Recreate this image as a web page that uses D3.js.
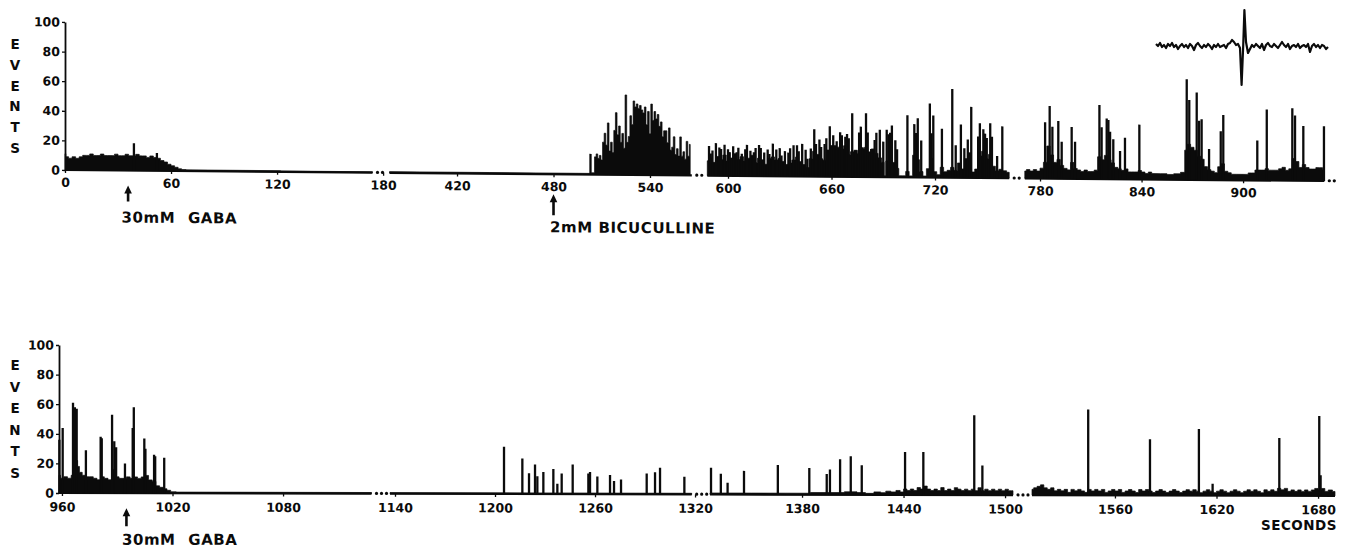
<!DOCTYPE html>
<html>
<head>
<meta charset="utf-8">
<script src="https://cdn.jsdelivr.net/npm/d3@7"></script>
<style>
  body { margin: 0; background: #fff; }
  text { font-family: "DejaVu Sans", sans-serif; font-weight: bold; fill: #0b0b0b; }
</style>
</head>
<body>
<svg id="chart" width="1347" height="548"></svg>
<script>
// ---- data (time in seconds, counts in events per bin) ----
var eventTicks = [0, 20, 40, 60, 80, 100];

// top record: broken time axis, four pieces
var topSegments = [[0, 174], [378, 566], [588, 763], [771, 948]];
var topTimeTicks = [[0, 60, 120, 180], [420, 480, 540], [600, 660, 720], [780, 840, 900]];

// background level of the histogram (time, events)
var topBase = [
  [0, 11], [1, 9], [3, 8], [5, 9], [7, 8], [9, 9], [11, 10], [13, 10], [15, 11], [17, 10], [19, 10],
  [21, 11], [23, 10], [25, 10], [27, 10], [29, 11], [31, 10], [33, 10], [35, 11], [37, 10], [39, 10],
  [41, 11], [43, 10], [45, 10], [47, 9], [49, 10], [51, 9], [53, 8.5], [55, 7], [57, 6], [59, 4.5],
  [61, 3.5], [63, 2.5], [65, 1.5], [67, 1], [70, 0.8], [174, 0.6],
  [378, 0.8], [502, 0.8], [505, 1.2],
  [588, 10], [590, 12], [592, 9], [594, 13], [596, 11], [598, 14], [600, 10], [602, 12], [604, 15],
  [606, 11], [608, 13], [610, 10], [612, 12], [614, 14], [616, 9], [618, 12], [620, 11], [622, 8],
  [624, 12], [626, 13], [628, 11], [630, 12], [632, 10], [634, 8], [636, 9], [638, 11], [640, 13],
  [642, 10], [644, 8], [646, 6], [648, 12], [650, 17], [652, 15], [654, 12], [656, 11], [658, 18],
  [660, 21], [662, 21], [664, 20], [666, 19], [668, 21], [670, 15], [672, 17], [674, 18], [676, 16],
  [678, 19], [680, 20], [682, 17], [684, 19], [686, 16], [688, 13], [690, 10], [691, 1], [692, 11],
  [694, 15], [696, 10], [698, 6], [700, 1], [702, 1], [704, 4], [706, 1], [708, 15], [710, 12], [712, 4],
  [714, 1], [716, 6], [718, 13], [720, 4], [722, 2], [724, 7], [726, 4], [728, 5], [730, 7], [732, 5],
  [734, 10], [736, 6], [738, 13], [740, 17], [742, 4], [744, 6], [746, 15], [748, 18], [750, 13],
  [752, 16], [754, 8], [756, 5], [758, 6], [760, 5], [763, 4],
  [771, 5], [773, 6], [775, 5], [777, 6], [779, 5], [781, 7], [783, 11], [785, 22], [787, 16], [789, 11],
  [791, 13], [793, 9], [795, 7], [797, 6], [799, 11], [801, 7], [803, 6], [805, 5], [807, 6], [809, 5],
  [811, 5], [813, 6], [815, 15], [817, 13], [819, 16], [821, 13], [823, 11], [825, 8], [827, 7], [829, 6],
  [831, 7], [833, 5], [835, 5], [837, 5], [839, 6], [841, 5], [843, 4], [845, 5], [847, 4], [849, 4],
  [853, 4], [857, 3.5], [861, 4], [865, 5], [866, 20], [868, 24], [870, 22], [872, 20], [874, 16],
  [876, 14], [878, 9], [880, 7], [882, 6], [884, 5], [886, 9], [888, 11], [890, 6], [892, 5], [894, 4],
  [898, 4], [902, 4], [904, 5], [906, 5], [908, 7], [910, 7], [912, 7], [914, 8], [916, 7], [918, 7],
  [920, 7], [922, 8], [924, 9], [926, 7], [928, 8], [930, 15], [932, 13], [934, 9], [936, 11], [938, 9],
  [940, 8], [942, 8], [944, 9], [946, 9], [948, 8]
];

// bicuculline burst, one value per second from 506 s
var topBurstStart = 506;
var topBurst = [12, 14, 11, 13, 10, 22, 28, 20, 35, 16, 22, 15, 30, 42, 27, 33, 22, 28, 18, 54,
  22, 26, 40, 34, 50, 46, 48, 45, 47, 44, 42, 46, 34, 43, 28, 48, 37, 43, 38, 41,
  33, 36, 26, 30, 30, 22, 32, 17, 19, 26, 14, 18, 13, 26, 13, 16, 11, 23, 13, 21];

// single tall bins (time, events)
var topSpikes = [
  [39, 18.5], [52, 12], [503, 14],
  [589, 20], [590, 15], [591, 17], [593, 22], [595, 19], [596, 18], [598, 21], [600, 18], [601, 16],
  [603, 20], [605, 16], [606, 19], [608, 15], [610, 18], [611, 21], [613, 17], [615, 16], [616, 19],
  [618, 21], [619, 19], [621, 16], [623, 18], [624, 15], [626, 22], [628, 18], [630, 19], [631, 14],
  [633, 17], [635, 16], [636, 19], [638, 21], [640, 21], [641, 17], [643, 22], [645, 18], [646, 12],
  [648, 19], [650, 32], [651, 22], [653, 25], [654, 20], [656, 22], [657, 26], [659, 34], [661, 28],
  [663, 24], [665, 30], [666, 28], [668, 27], [669, 29], [670, 26], [672, 43], [674, 18], [676, 30],
  [677, 34], [678, 20], [680, 43], [681, 30], [683, 19], [685, 25], [686, 30], [688, 32], [690, 24],
  [692, 32], [693, 29], [694, 30], [695, 35], [697, 25], [698, 19], [704, 42], [708, 36], [709, 30],
  [710, 40], [712, 25], [717, 50], [718, 30], [719, 42], [724, 33], [730, 60], [732, 22], [735, 36],
  [737, 20], [739, 26], [741, 48], [745, 28], [746, 37], [748, 33], [749, 30], [750, 27], [752, 37],
  [753, 28], [756, 15], [759, 35],
  [783, 38], [785.7, 49], [787.3, 35], [790.8, 39], [792.8, 25], [798.7, 35], [800.7, 25], [815.1, 50],
  [816.4, 35], [819.4, 41], [820.4, 40], [821.4, 32], [823.3, 27], [827.3, 19], [830.2, 28], [838.7, 37],
  [866.7, 68], [868.2, 54], [872.6, 59], [874, 40], [875.5, 41], [879.9, 21], [886.8, 33], [888.3, 44],
  [908.4, 27], [914, 48], [929.1, 49], [930.7, 44], [935.6, 37], [947.8, 37]
];

// bottom record
var bottomSegments = [[958.4, 1128], [1137, 1318], [1325.6, 1504.7], [1511, 1690]];
var bottomTimeTicks = [[960, 1020, 1080], [1140, 1200, 1260, 1320], [1380, 1440, 1500], [1560, 1620, 1680]];

var bottomBase = [
  [958.4, 12], [960, 10], [962, 11], [964, 10], [966, 12], [968, 22], [969, 18], [970, 14], [972, 12],
  [974, 11], [976, 11], [978, 10], [980, 9], [982, 11], [984, 10], [986, 9], [988, 16], [989, 14],
  [990, 11], [992, 10], [994, 10], [996, 11], [998, 10], [1000, 11], [1002, 10], [1004, 11], [1006, 12],
  [1008, 9], [1010, 8], [1012, 5], [1014, 4], [1016, 3], [1018, 2], [1020, 1], [1024, 0.8], [1128, 0.8],
  [1137, 0.8], [1318, 0.8],
  [1325.6, 1], [1340, 1], [1360, 1], [1380, 1], [1390, 1.5], [1400, 1.5], [1410, 2], [1415, 1.5],
  [1420, 1], [1425, 2], [1428, 1.5], [1431, 2.5], [1434, 2], [1437, 3], [1439, 2], [1441, 4], [1443, 3],
  [1445, 4], [1447, 3], [1449, 5], [1451, 4], [1453, 6], [1455, 4], [1457, 3], [1459, 4], [1461, 3],
  [1463, 5], [1465, 3], [1467, 4], [1469, 3], [1471, 5], [1473, 4], [1475, 3], [1477, 4], [1479, 3],
  [1481, 4], [1483, 3], [1485, 5], [1487, 3], [1489, 4], [1491, 3], [1493, 4], [1495, 3], [1497, 4],
  [1499, 3], [1501, 4], [1503, 3], [1504.7, 3],
  [1511, 4], [1513, 5], [1515, 6], [1517, 7], [1519, 5], [1521, 4], [1523, 5], [1525, 3], [1527, 4],
  [1529, 3], [1531, 4], [1533, 2], [1535, 4], [1537, 3], [1539, 4], [1541, 3], [1543, 2], [1545, 4],
  [1547, 3], [1549, 4], [1551, 3], [1553, 4], [1555, 2], [1557, 3], [1559, 4], [1561, 3], [1563, 4],
  [1565, 2], [1567, 3], [1569, 4], [1571, 3], [1573, 2], [1575, 4], [1577, 3], [1579, 4], [1581, 3],
  [1583, 2], [1585, 3], [1587, 4], [1589, 3], [1591, 2], [1593, 3], [1595, 4], [1597, 3], [1599, 2],
  [1601, 3], [1603, 4], [1605, 3], [1607, 4], [1609, 3], [1611, 2], [1613, 3], [1615, 4], [1617, 3],
  [1619, 2], [1621, 3], [1623, 4], [1625, 3], [1627, 2], [1629, 3], [1631, 4], [1633, 3], [1635, 2],
  [1637, 3], [1639, 4], [1641, 3], [1643, 4], [1645, 3], [1647, 2], [1649, 4], [1651, 3], [1653, 4],
  [1655, 3], [1657, 5], [1659, 4], [1661, 5], [1663, 3], [1665, 4], [1667, 3], [1669, 4], [1671, 3],
  [1673, 4], [1675, 3], [1677, 4], [1679, 5], [1681, 4], [1683, 5], [1685, 3], [1687, 4], [1690, 3]
];

var bottomSpikes = [
  [958.6, 36], [960.4, 44], [966, 61], [967, 58], [968, 57], [973, 29], [981, 38], [981.6, 37],
  [987.2, 53], [988.4, 35], [989.4, 31], [994.2, 20], [998.4, 44], [999, 58], [1004.7, 37], [1005.3, 30],
  [1010, 26], [1010.6, 25], [1015.5, 24],
  [1205.4, 32], [1216.4, 24], [1220.4, 14], [1224, 20], [1225.4, 12], [1229, 15], [1235, 17], [1237.4, 7],
  [1240, 14], [1246.6, 20], [1256, 14], [1257, 15], [1261.4, 12], [1269, 13], [1271.4, 9], [1275.6, 10],
  [1291, 14], [1296, 15], [1299, 18], [1313.6, 12],
  [1326.2, 18], [1332, 14], [1336, 8], [1345.7, 16], [1365.7, 20], [1384.3, 18], [1394.6, 14], [1396.5, 17],
  [1402.5, 24], [1408.8, 26], [1415.3, 20], [1440.9, 29], [1451.7, 29], [1481.8, 54], [1486.6, 20],
  [1544.2, 58], [1580.7, 38], [1609.6, 45], [1617.7, 8], [1657.1, 39], [1680.7, 54], [1681.5, 14]
];

// drug applications
var topNotes = [{ t: 35.7, seg: 0, label: "30mM GABA" }, { t: 480, seg: 1, label: "2mM BICUCULLINE" }];
var bottomNotes = [{ t: 995, seg: 0, label: "30mM GABA" }];

// inset: single unit waveform (sample, amplitude)
var waveform = [
  [0, 2], [1, 0], [2, 3], [3, -1], [4, 1], [5, -2], [6, 2], [7, 0], [8, 3], [9, -1], [10, 1], [11, -3],
  [12, 0], [13, 2], [14, -1], [15, 1], [16, -2], [17, 2], [18, 0], [19, -4], [20, 1], [21, 3], [22, 0],
  [23, -2], [24, 1], [25, -1], [26, 2], [27, 0], [28, -3], [29, 1], [30, -1], [31, 2], [32, -1], [33, 0],
  [34, 1], [35, -2], [36, 2], [37, 3], [38, 6], [39, 4], [40, 1], [41, 2], [42, -2], [42.8, -39],
  [43.6, 0], [44.2, 36], [45, 4], [46, -7], [47, -3], [48, 1], [49, -1], [50, 2], [51, 0], [52, -2],
  [53, 2], [54, -4], [55, 1], [56, 3], [57, 0], [58, -1], [59, 2], [60, 0], [61, -2], [62, 1], [63, 4],
  [64, 1], [65, -1], [66, 2], [67, -3], [68, 0], [69, 1], [70, -1], [71, 2], [72, -2], [73, 0], [74, 1],
  [75, -1], [76, 2], [77, -6], [78, 0], [79, 2], [80, -1], [81, 1], [82, -2], [83, 1], [84, 0], [85, -3],
  [86, -1]
];

// ---- drawing ----
var ink = "#0b0b0b";
var svg = d3.select("#chart");

function drawPanel(cfg) {
  var axisX = cfg.px[0][0];
  // the printed figure sags slightly to the right
  var g = svg.append("g")
    .attr("transform", "translate(" + axisX + "," + cfg.y0 + ") skewY(" + cfg.tilt + ") translate(" + (-axisX) + "," + (-cfg.y0) + ")");

  var y = d3.scaleLinear().domain([0, 100]).range([cfg.y0, cfg.yTop]);

  var ya = g.append("g")
    .attr("transform", "translate(" + axisX + ",0)")
    .call(d3.axisLeft(y).tickValues(eventTicks).tickSize(3).tickSizeOuter(0).tickPadding(2));
  ya.select(".domain").attr("stroke", ink).attr("stroke-width", 1.8);
  ya.selectAll(".tick line").attr("stroke", ink).attr("stroke-width", 1.3);
  ya.selectAll(".tick text").attr("font-family", "DejaVu Sans").attr("font-weight", "bold")
    .attr("font-size", 12.5).attr("fill", ink);

  cfg.segs.forEach(function(seg, i) {
    var x = d3.scaleLinear().domain(seg).range(cfg.px[i]);

    // x axis ticks and labels
    var xa = g.append("g")
      .attr("transform", "translate(0," + cfg.y0 + ")")
      .call(d3.axisBottom(x).tickValues(cfg.ticks[i]).tickFormat(d3.format("d"))
        .tickSize(3).tickSizeOuter(0).tickPadding(cfg.labelPad));
    xa.select(".domain").remove();
    xa.selectAll(".tick line").attr("stroke", ink).attr("stroke-width", 1.3);
    xa.selectAll(".tick text").attr("font-family", "DejaVu Sans").attr("font-weight", "bold")
      .attr("font-size", 12.5).attr("fill", ink);

    // baseline
    g.append("line")
      .attr("x1", x(seg[0])).attr("x2", x(seg[1]))
      .attr("y1", y(0)).attr("y2", y(0))
      .attr("stroke", ink).attr("stroke-width", 2.2);

    // background counts
    var pts = cfg.base.filter(function(d) { return d[0] >= seg[0] - 0.01 && d[0] <= seg[1] + 0.01; });
    var area = d3.area()
      .curve(d3.curveStep)
      .x(function(d) { return x(d[0]); })
      .y0(y(0))
      .y1(function(d) { return y(d[1]); });
    g.append("path").datum(pts).attr("d", area).attr("fill", ink)
      .attr("stroke", ink).attr("stroke-width", 0.7);

    // spikes
    var sp = cfg.spikes.filter(function(d) { return d[0] >= seg[0] && d[0] <= seg[1]; });
    g.selectAll(null).data(sp).enter().append("line")
      .attr("x1", function(d) { return x(d[0]); })
      .attr("x2", function(d) { return x(d[0]); })
      .attr("y1", y(0))
      .attr("y2", function(d) { return y(d[1]); })
      .attr("stroke", ink).attr("stroke-width", 2.3);

    // break dots
    var from = cfg.px[i][1];
    var to = i < cfg.segs.length - 1 ? cfg.px[i + 1][0] : (cfg.trail ? from + 14 : from);
    for (var dx = from + 5; dx < to - 2; dx += 5) {
      g.append("circle").attr("cx", dx).attr("cy", y(0) - 0.3).attr("r", 1.6).attr("fill", ink);
    }

    // drug arrows
    cfg.notes.forEach(function(n, k) {
      if (n.seg !== i) return;
      var lay = cfg.noteLayout[k];
      var ax = x(n.t);
      g.append("line").attr("x1", ax).attr("x2", ax)
        .attr("y1", cfg.y0 + lay.head + 6).attr("y2", cfg.y0 + lay.tail)
        .attr("stroke", ink).attr("stroke-width", 2.6);
      g.append("path")
        .attr("d", "M" + ax + "," + (cfg.y0 + lay.head) + "l-3.8,8h7.6z")
        .attr("fill", ink);
      g.append("text")
        .attr("x", ax + lay.dx).attr("y", cfg.y0 + lay.text)
        .attr("font-size", 15).attr("letter-spacing", 0.55).attr("word-spacing", lay.ws)
        .text(n.label);
    });
  });

  // vertical EVENTS label
  svg.selectAll(null).data("EVENTS".split("")).enter().append("text")
    .attr("x", 15)
    .attr("y", function(d, i) { return cfg.eventsY + i * cfg.eventsStep; })
    .attr("text-anchor", "middle")
    .attr("dominant-baseline", "central")
    .attr("font-size", 13.5)
    .text(function(d) { return d; });
}

drawPanel({
  segs: topSegments, ticks: topTimeTicks,
  base: topBase.concat(topBurst.map(function(v, i) { return [topBurstStart + i, v]; }))
    .sort(function(a, b) { return a[0] - b[0]; }),
  spikes: topSpikes, notes: topNotes,
  noteLayout: [{ head: 15, tail: 31, text: 52, dx: -6.5, ws: 7 }, { head: 20, tail: 41, text: 58, dx: -3.5, ws: 0 }],
  px: [[65, 372.5], [389.5, 691.8], [707.3, 1009.2], [1024.8, 1324.3]],
  y0: 170, yTop: 22, tilt: 0.5, labelPad: 5, trail: true,
  eventsY: 44, eventsStep: 20.8
});

drawPanel({
  segs: bottomSegments, ticks: bottomTimeTicks, base: bottomBase, spikes: bottomSpikes, notes: bottomNotes,
  noteLayout: [{ head: 15, tail: 33, text: 51.5, dx: -4.5, ws: 7 }],
  px: [[59, 371.5], [390, 691.7], [710, 1013], [1032, 1335]],
  y0: 493, yTop: 345, tilt: 0.13, labelPad: 6.5, trail: false,
  eventsY: 365, eventsStep: 21.6
});

svg.append("text")
  .attr("x", 1337).attr("y", 530)
  .attr("text-anchor", "end")
  .attr("font-size", 13.5).attr("letter-spacing", 0.5)
  .text("SECONDS");

// inset spike waveform
var wx = d3.scaleLinear().domain([0, 86]).range([1156, 1328]);
var wy = d3.scaleLinear().domain([-40, 40]).range([86, 6]);
svg.append("path").datum(waveform)
  .attr("d", d3.line().x(function(d) { return wx(d[0]); }).y(function(d) { return wy(d[1]); }))
  .attr("fill", "none").attr("stroke", ink).attr("stroke-width", 2.2).attr("stroke-linejoin", "round");
</script>
</body>
</html>
